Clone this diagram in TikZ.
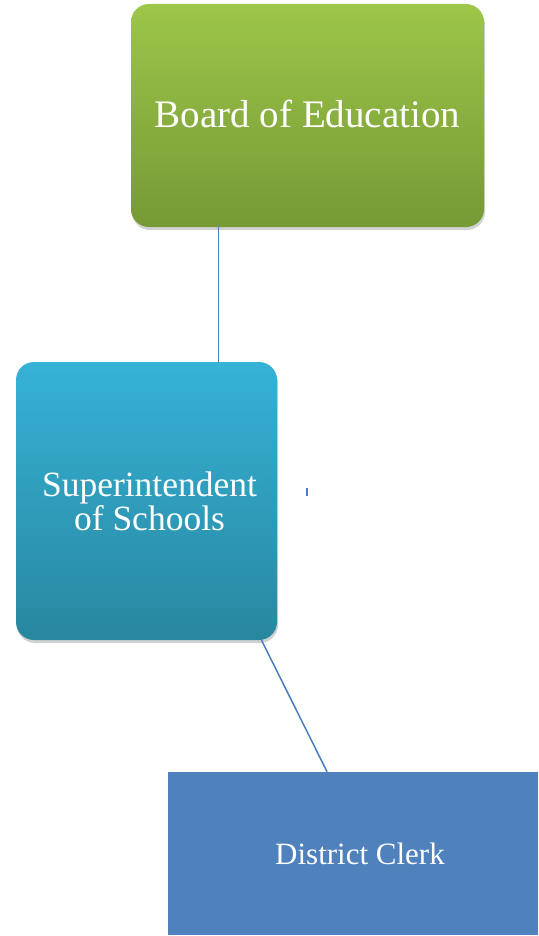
\documentclass[tikz,border=0pt]{standalone}
\usepackage{fontspec}
\setmainfont{Liberation Serif}
\usetikzlibrary{shadows,calc}
\definecolor{greentop}{HTML}{9DC64A}
\definecolor{greenbot}{HTML}{769934}
\definecolor{bluetop}{HTML}{36B2D7}
\definecolor{bluebot}{HTML}{28879F}
\definecolor{clerkblue}{HTML}{4F81BD}
\definecolor{linkblue}{HTML}{4A7EBB}
\tikzset{
  orgbox/.style={rounded corners=18pt, inner sep=0pt, align=center, text=white,
    drop shadow={shadow xshift=1pt, shadow yshift=-3pt, opacity=0.18, fill=black}},
  greenbox/.style={orgbox, top color=greentop, bottom color=greenbot},
  tealbox/.style={orgbox, top color=bluetop, bottom color=bluebot},
  clerkbox/.style={fill=clerkblue, inner sep=0pt, align=center, text=white},
  connector/.style={draw=linkblue, line width=1.5pt}
}
\begin{document}
\begin{tikzpicture}[x=1pt,y=-1pt]
\useasboundingbox (0,0) rectangle (538,936);
\node[greenbox, minimum width=353pt, minimum height=223pt,
  font=\fontsize{39}{44}\selectfont] (board) at (307.5,115.5) {\raisebox{3pt}{Board of Education}};
\node[tealbox, minimum width=261pt, minimum height=278pt,
  font=\fontsize{35.5}{34}\selectfont] (super) at (146.5,501) {\hspace*{6pt}Superintendent\\\hspace*{6pt}of Schools};
\node[clerkbox, minimum width=370pt, minimum height=163pt,
  font=\fontsize{31}{34}\selectfont] (clerk) at (353,853.5) {\hspace*{14pt}District Clerk};
\coordinate (b1) at ($(board.south west)!0.2486!(board.south east)$);
\draw[connector] (b1) -- (b1 |- super.north);
\coordinate (s1) at ($(super.south west)!0.94!(super.south east)$);
\coordinate (c1) at ($(clerk.north west)!0.43!(clerk.north east)$);
\draw[connector] (s1) -- (c1);
\coordinate (tick) at (307,488);
\draw[connector, line width=2pt] (tick) -- ++(0,8);
\end{tikzpicture}
\end{document}
